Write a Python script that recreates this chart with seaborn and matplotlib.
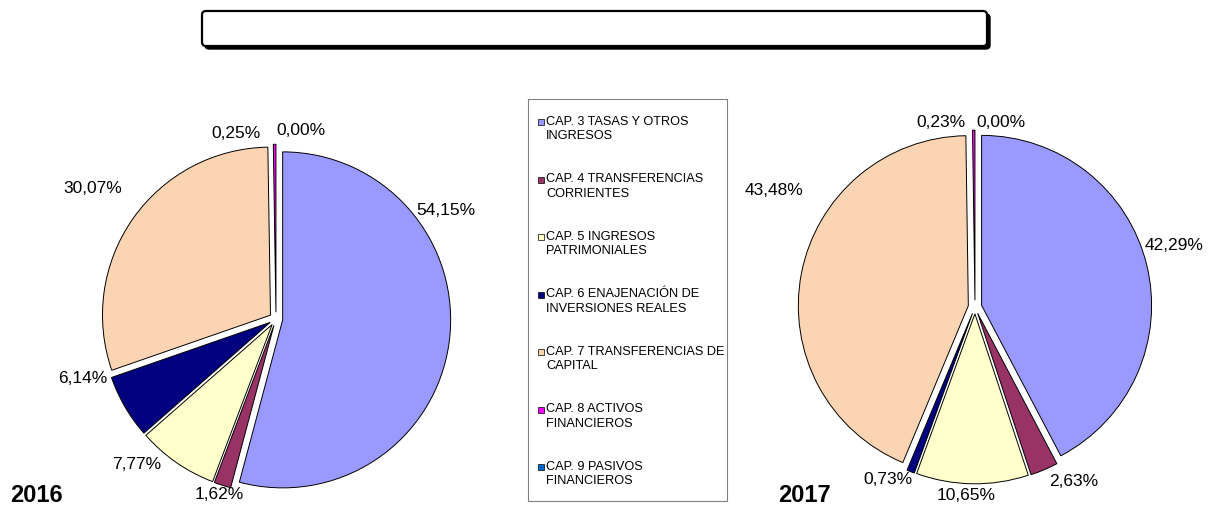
import matplotlib
matplotlib.use("Agg")
import matplotlib.pyplot as plt
from matplotlib.patches import Rectangle, FancyBboxPatch
import seaborn as sns

sns.set_style("white")
plt.rcParams['font.family'] = ['Liberation Sans', 'DejaVu Sans']
plt.rcParams['text.color'] = 'black'

#data
categories = ["CAP. 3 TASAS Y OTROS\nINGRESOS",
              "CAP. 4 TRANSFERENCIAS\nCORRIENTES",
              "CAP. 5 INGRESOS\nPATRIMONIALES",
              "CAP. 6 ENAJENACIÓN DE\nINVERSIONES REALES",
              "CAP. 7 TRANSFERENCIAS DE\nCAPITAL",
              "CAP. 8 ACTIVOS\nFINANCIEROS",
              "CAP. 9 PASIVOS\nFINANCIEROS"]
pct_2016 = [54.15, 1.62, 7.77, 6.14, 30.07, 0.25, 0.00]
pct_2017 = [42.29, 2.63, 10.65, 0.73, 43.48, 0.23, 0.00]
colors = sns.color_palette(["#9999FF", "#993366", "#FFFFCC", "#000080",
                            "#FBD4B4", "#FF00FF", "#0066CC"])

#label positions (pie radius units), placed like the excel best-fit labels
lab_2016 = [(1.01, 0.65), (-0.34, -1.04), (-0.83, -0.86), (-1.15, -0.35),
            (-1.09, 0.78), (-0.24, 1.11), (0.15, 1.13)]
lab_2017 = [(1.17, 0.37), (0.58, -1.02), (-0.05, -1.10), (-0.51, -1.01),
            (-1.18, 0.69), (-0.20, 1.09), (0.15, 1.09)]

W, H = 1209, 510
fig = plt.figure(figsize=(W / 100, H / 100), dpi=100)

#overlay axes in pixel coords for boxes / legend / years
ov = fig.add_axes([0, 0, 1, 1])
ov.set_xlim(0, W)
ov.set_ylim(H, 0)
ov.axis('off')

#empty title box with shadow
ov.add_patch(FancyBboxPatch((205, 15), 785, 35, boxstyle="round,pad=0,rounding_size=4",
                            fc='black', ec='black', lw=1))
ov.add_patch(FancyBboxPatch((202, 12), 785, 35, boxstyle="round,pad=0,rounding_size=4",
                            fc='white', ec='black', lw=1.6))

#legend box, drawn by hand so the square sits on the first line
ov.add_patch(Rectangle((528, 100), 199, 402, fc='white', ec='#808080', lw=0.8))
for i, (lab, c) in enumerate(zip(categories, colors)):
    yc = 123 + i * 57.5
    ov.add_patch(Rectangle((538, yc - 3), 6, 6, fc=c, ec='black', lw=0.5))
    ov.text(546, yc - 7, lab, fontsize=9.2, va='top', ha='left', linespacing=1.25)

ov.text(10, 502, "2016", fontsize=17, fontweight='bold', ha='left', va='baseline')
ov.text(778, 502, "2017", fontsize=17, fontweight='bold', ha='left', va='baseline')


def pie_axes(cx, cy, r, lim=1.25):
    size = 2 * lim * r
    ax = fig.add_axes([(cx - size / 2) / W, 1 - (cy + size / 2) / H, size / W, size / H])
    return ax


def draw_pie(ax, vals, labpos):
    wedges, _ = ax.pie(vals, colors=colors, startangle=90, counterclock=False,
                       explode=[0.04] * len(vals),
                       wedgeprops=dict(edgecolor='black', linewidth=0.7))
    for w, v in zip(wedges, vals):
        if v == 0:
            w.set_visible(False)
    for v, (x, y) in zip(vals, labpos):
        ax.text(x, y, f"{v:.2f}%".replace('.', ','), ha='center', va='center', fontsize=12.5)
    ax.set_xlim(-1.25, 1.25)
    ax.set_ylim(-1.25, 1.25)
    ax.set_aspect('equal')
    ax.axis('off')


ax1 = pie_axes(276, 320, 168)
draw_pie(ax1, pct_2016, lab_2016)
ax2 = pie_axes(975, 308, 170)
draw_pie(ax2, pct_2017, lab_2017)

fig.savefig("out.png", dpi=100)
